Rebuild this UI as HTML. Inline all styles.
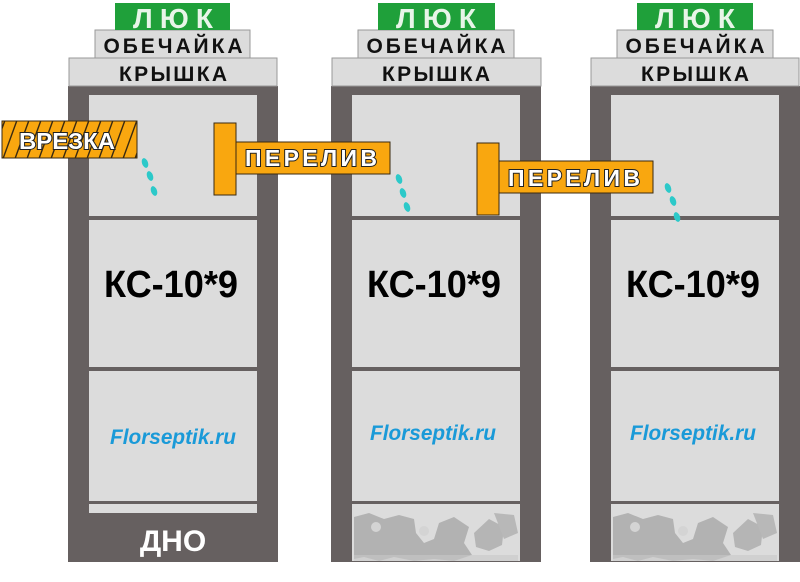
<!DOCTYPE html>
<html><head><meta charset="utf-8"><style>
html,body{margin:0;padding:0;background:#fff;}
svg{display:block;font-family:"Liberation Sans",sans-serif;}
</style></head><body>
<svg width="800" height="582" viewBox="0 0 800 582" xmlns="http://www.w3.org/2000/svg">
<defs>
<pattern id="hatch" width="12" height="40" patternUnits="userSpaceOnUse" patternTransform="skewX(-20)">
<rect width="12" height="40" fill="#f9a70f"/>
<rect x="0" width="1.5" height="40" fill="#3a2a10"/>
</pattern>
<g id="blobs">
<path d="M0 4 L15 0 L30 6 L45 2 L60 6 L62 20 L70 30 L80 26 L85 10 L100 4 L115 14 L110 30 L118 42 L100 48 L80 46 L60 48 L40 44 L25 48 L10 44 L0 46Z" fill="#b2b2b2"/>
<path d="M120 20 L135 6 L150 14 L148 32 L135 38 L122 34Z" fill="#b5b5b5"/>
<path d="M140 0 L160 2 L164 20 L150 26Z" fill="#b8b8b8"/>
<circle cx="22" cy="14" r="5" fill="#d4d4d4"/>
<circle cx="70" cy="18" r="5" fill="#d4d4d4"/>
<rect x="0" y="42" width="164" height="6" fill="#c8c8c8" opacity="0.6"/>
</g>
</defs>

<!-- Column 1 -->
<rect x="68" y="86" width="210" height="476" fill="#666060"/>
<rect x="89" y="95" width="168" height="121" fill="#dcdcdc"/>
<rect x="89" y="220" width="168" height="147" fill="#dcdcdc"/>
<rect x="89" y="371" width="168" height="130" fill="#dcdcdc"/>
<rect x="89" y="504" width="168" height="9" fill="#dcdcdc"/>
<text x="173" y="551" text-anchor="middle" font-size="30" font-weight="bold" fill="#fff">ДНО</text>

<!-- Column 2 -->
<rect x="331" y="86" width="210" height="476" fill="#666060"/>
<rect x="352" y="95" width="168" height="121" fill="#dcdcdc"/>
<rect x="352" y="220" width="168" height="147" fill="#dcdcdc"/>
<rect x="352" y="371" width="168" height="130" fill="#dcdcdc"/>
<rect x="352" y="504" width="168" height="57" fill="#dcdcdc"/>
<use href="#blobs" x="354" y="513"/>

<!-- Column 3 -->
<rect x="590" y="86" width="210" height="476" fill="#666060"/>
<rect x="611" y="95" width="168" height="121" fill="#dcdcdc"/>
<rect x="611" y="220" width="168" height="147" fill="#dcdcdc"/>
<rect x="611" y="371" width="168" height="130" fill="#dcdcdc"/>
<rect x="611" y="504" width="168" height="57" fill="#dcdcdc"/>
<use href="#blobs" x="613" y="513"/>

<!-- Tops -->
<g font-weight="bold">
<rect x="69" y="58" width="208" height="28" fill="#dcdcdc" stroke="#999" stroke-width="1"/>
<rect x="95" y="30" width="155" height="28" fill="#dcdcdc" stroke="#999" stroke-width="1"/>
<rect x="115" y="3" width="115" height="27" fill="#1fa03a"/>
<text x="173" y="28" text-anchor="middle" font-size="28" fill="#e8f5e8" textLength="80" lengthAdjust="spacing">ЛЮК</text>
<text x="173" y="53" text-anchor="middle" font-size="21" fill="#111" textLength="139" lengthAdjust="spacing">ОБЕЧАЙКА</text>
<text x="173" y="81" text-anchor="middle" font-size="21" fill="#111" textLength="108" lengthAdjust="spacing">КРЫШКА</text>

<rect x="332" y="58" width="209" height="28" fill="#dcdcdc" stroke="#999" stroke-width="1"/>
<rect x="358" y="30" width="156" height="28" fill="#dcdcdc" stroke="#999" stroke-width="1"/>
<rect x="378" y="3" width="117" height="27" fill="#1fa03a"/>
<text x="436" y="28" text-anchor="middle" font-size="28" fill="#e8f5e8" textLength="80" lengthAdjust="spacing">ЛЮК</text>
<text x="436" y="53" text-anchor="middle" font-size="21" fill="#111" textLength="139" lengthAdjust="spacing">ОБЕЧАЙКА</text>
<text x="436" y="81" text-anchor="middle" font-size="21" fill="#111" textLength="108" lengthAdjust="spacing">КРЫШКА</text>

<rect x="591" y="58" width="208" height="28" fill="#dcdcdc" stroke="#999" stroke-width="1"/>
<rect x="617" y="30" width="156" height="28" fill="#dcdcdc" stroke="#999" stroke-width="1"/>
<rect x="637" y="3" width="116" height="27" fill="#1fa03a"/>
<text x="695" y="28" text-anchor="middle" font-size="28" fill="#e8f5e8" textLength="80" lengthAdjust="spacing">ЛЮК</text>
<text x="695" y="53" text-anchor="middle" font-size="21" fill="#111" textLength="139" lengthAdjust="spacing">ОБЕЧАЙКА</text>
<text x="695" y="81" text-anchor="middle" font-size="21" fill="#111" textLength="108" lengthAdjust="spacing">КРЫШКА</text>

<text x="171" y="297" text-anchor="middle" font-size="38" fill="#000" textLength="134" lengthAdjust="spacingAndGlyphs">КС-10*9</text>
<text x="434" y="297" text-anchor="middle" font-size="38" fill="#000" textLength="134" lengthAdjust="spacingAndGlyphs">КС-10*9</text>
<text x="693" y="297" text-anchor="middle" font-size="38" fill="#000" textLength="134" lengthAdjust="spacingAndGlyphs">КС-10*9</text>
</g>

<g font-size="21" font-weight="bold" font-style="italic" fill="#1a9ad8">
<text x="173" y="444" text-anchor="middle" textLength="126" lengthAdjust="spacingAndGlyphs">Florseptik.ru</text>
<text x="433" y="440" text-anchor="middle" textLength="126" lengthAdjust="spacingAndGlyphs">Florseptik.ru</text>
<text x="693" y="440" text-anchor="middle" textLength="126" lengthAdjust="spacingAndGlyphs">Florseptik.ru</text>
</g>

<!-- Droplets -->
<g fill="#2cc9c9">
<ellipse cx="145" cy="163" rx="3" ry="5" transform="rotate(-20 145 163)"/>
<ellipse cx="150" cy="176" rx="3" ry="5" transform="rotate(-20 150 176)"/>
<ellipse cx="154" cy="191" rx="3" ry="5" transform="rotate(-20 154 191)"/>
<ellipse cx="399" cy="179" rx="3" ry="5" transform="rotate(-20 399 179)"/>
<ellipse cx="403" cy="193" rx="3" ry="5" transform="rotate(-20 403 193)"/>
<ellipse cx="407" cy="207" rx="3" ry="5" transform="rotate(-20 407 207)"/>
<ellipse cx="668" cy="188" rx="3" ry="5" transform="rotate(-20 668 188)"/>
<ellipse cx="673" cy="201" rx="3" ry="5" transform="rotate(-20 673 201)"/>
<ellipse cx="677" cy="217" rx="3" ry="5" transform="rotate(-20 677 217)"/>
</g>

<!-- Pipes -->
<g stroke="#3a2a10" stroke-width="1" font-weight="bold" font-size="23">
<rect x="2" y="121" width="135" height="37" fill="url(#hatch)"/>
<text x="67" y="149" text-anchor="middle" fill="#fff" stroke="#222" stroke-width="2" paint-order="stroke" textLength="96" lengthAdjust="spacingAndGlyphs">ВРЕЗКА</text>

<rect x="214" y="123" width="22" height="72" fill="#f9a70f"/>
<rect x="236" y="142" width="154" height="32" fill="#f9a70f"/>
<text x="311" y="166" text-anchor="middle" fill="#fff" stroke="#222" stroke-width="2" paint-order="stroke" textLength="132" lengthAdjust="spacing">ПЕРЕЛИВ</text>

<rect x="477" y="143" width="22" height="72" fill="#f9a70f"/>
<rect x="499" y="161" width="154" height="32" fill="#f9a70f"/>
<text x="574" y="186" text-anchor="middle" fill="#fff" stroke="#222" stroke-width="2" paint-order="stroke" textLength="132" lengthAdjust="spacing">ПЕРЕЛИВ</text>
</g>
</svg>
</body></html>
